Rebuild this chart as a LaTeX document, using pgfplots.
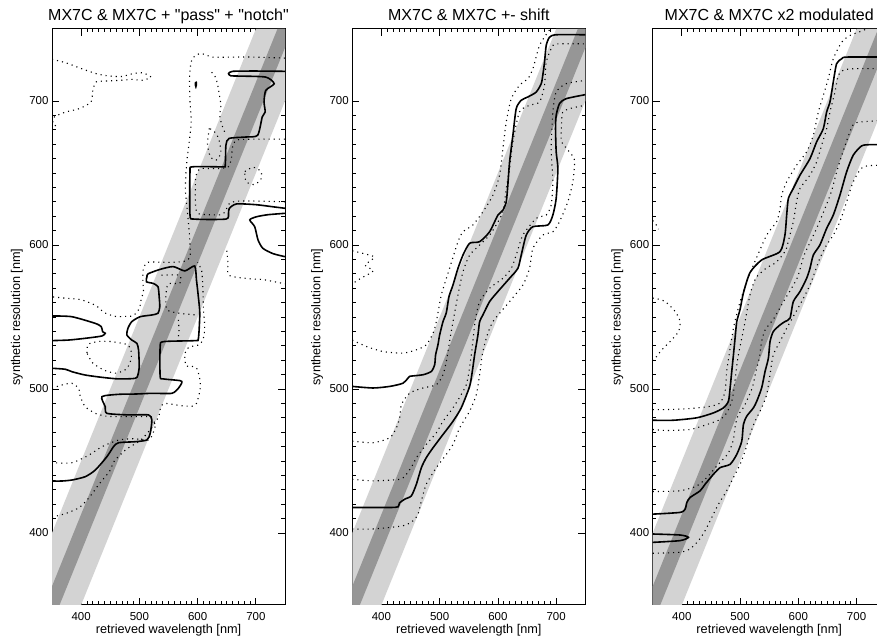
\documentclass[border=0pt]{standalone}
\usepackage{fontspec}
\setmainfont{Liberation Sans}
\newfontfamily\plainfont{Liberation Sans}
\usepackage{pgfplots}
\pgfplotsset{compat=1.18}
\definecolor{bandlight}{RGB}{211,211,211}
\definecolor{banddark}{RGB}{150,150,150}
\pgfplotsset{
 panel/.style={
  scale only axis, width=233pt, height=576pt, anchor=south west,
  xmin=350, xmax=750, ymin=350, ymax=750,
  xtick={400,500,600,700}, ytick={400,500,600,700},
  minor tick num=9,
  major tick length=7pt, minor tick length=3.5pt,
  tick style={black, line width=0.8pt},
  axis line style={line width=1pt},
  /pgf/number format/assume math mode=true,
  ticklabel style={font=\fontsize{11.5}{13}\selectfont},
  xticklabel style={yshift=-4pt},
  xlabel={retrieved wavelength [nm]},
  ylabel={synthetic resolution [nm]},
  every axis x label/.style={at={(axis description cs:0.5,-0.0503)}, anchor=base, font=\fontsize{12.7}{14}\selectfont},
  every axis y label/.style={at={(axis description cs:-0.1373,0.5)}, rotate=90, anchor=base, font=\fontsize{12.7}{14}\selectfont},
  every axis title/.style={at={(axis description cs:0.5,1.0139)}, anchor=base, font=\plainfont\fontsize{16}{18}\selectfont},
 },
 sc/.style={black, line width=1.6pt, smooth, tension=0.4},
 dc/.style={black, line width=1.1pt, dash pattern=on 1.1pt off 4pt, smooth, tension=0.4},
 bl/.style={fill=bandlight, draw=none},
 bd/.style={fill=banddark, draw=none},
}
\begin{document}
\begin{tikzpicture}
\useasboundingbox (0pt,0pt) rectangle (877pt,644pt);
% ---------------- Panel 1
\begin{axis}[panel, at={(52pt,39pt)}, title={MX7C \& MX7C + "pass" + "notch"}]
\addplot[bl] coordinates {(300,350) (400,350) (800,750) (700,750)};
\addplot[bd] coordinates {(337,350) (363,350) (763,750) (737,750)};
% solid
\addplot[sc] coordinates {(350,550.7) (384,550.2) (424,545.6) (434.6,543.3) (436.9,539.8) (441.4,538.7) (435.7,536.8) (407,535.2) (378.6,534) (350,533.6)};
\addplot[sc] coordinates {(350,514.4) (372.9,513.7) (384.3,512) (407,509.7) (435.7,508.1) (464.3,507) (492.9,507.4) (497.4,509.7) (499.7,515.5) (498.6,527.1) (495.7,531.7) (487,534) (478.6,537.5) (480.3,542.1) (487,546.8) (501.4,550.2) (521.4,551.4) (532,552.6) (535,557) (534,564) (532,571) (523.7,573.3) (512,574.5) (513,578) (515,580) (535,583) (558,585) (578,582) (595,585.4) (598,575.7) (601,565) (603.7,552.6) (601.4,535.2) (595.7,533.6) (541.4,532.9) (535.7,529.4) (535.7,508.6) (541.4,507) (570,505.8) (572.9,504.4) (567,500.5) (555.7,497) (521.4,497) (492.9,496.5) (464.3,496.3) (435.7,494.7) (441.4,487.7) (444.3,483.1) (481.4,482) (515.7,482) (521.4,478.5) (518.6,469.2) (512.9,464.6) (492.9,463.4) (464.3,462.7) (455.7,460) (444.3,453) (424.3,443.7) (407,439.1) (384.3,436.8) (367,436.1) (350,436.1)};
\addplot[sc] coordinates {(750,720.6) (700,720.8) (660,720.6) (653,719) (657,717.5) (671.4,717.3) (717,716.6) (731.4,712) (717,707.4) (714,699.3) (716,692.4) (711,689) (703,676.2) (683,675) (654,674) (648.6,669.3) (647.4,655.4) (643,654.3) (591.4,654.3) (586.9,650.8) (586.9,620.8) (594.3,618) (648.6,618) (653,622) (654.3,625.4) (666.6,628.5) (700,628) (730,626.5) (750,625.5)};
\addplot[sc] coordinates {(750,622) (720,621) (700,619.5) (689.5,617.4) (698,612.7) (703.7,603.5) (712,597.7) (729.4,594) (750,591.9)};
\addplot[sc] coordinates {(596.5,713) (597.6,713) (597.8,711) (597,710) (596.2,711) (596.5,713)};
% dotted
\addplot[dc] coordinates {(350,729) (374,726.5) (397,723) (425.7,719) (448.6,717.3) (470,717) (488.6,719) (505.7,719.6) (520,716.6) (505,714.4) (488,715) (470,714.4) (440,713.8) (425.7,713.2) (420,707.4) (417,699.3) (397,694.7) (374,692.4) (354.3,689) (351.4,684.3) (360,682)};
\addplot[dc] coordinates {(750,729.8) (694,730.5) (660,730.5) (626,730.5) (605,733) (592,730) (588,725) (586,715) (587,699) (589,686) (586,673) (582,660) (580,650) (579,638) (582,625) (585,612) (587,600) (587,592) (580,589) (560,588) (540,588) (515,588) (507,584) (506,575) (507,568) (503,562) (500,556) (490,551) (480,550.5) (460,550.3) (440,553) (425,558) (400,562) (375,563) (350,564)};
\addplot[dc] coordinates {(750,673.5) (710,673.5) (668,673) (660,668) (658,660) (652,654) (630,653) (605,653) (597,648) (596,635) (597,625) (603,621.5) (640,621) (648,624) (655,629) (670,630.5) (700,630.5) (750,630)};
\addplot[dc] coordinates {(624,720) (630,717) (634,712) (637,705) (640,697) (638,690) (642,683) (648,677)};
\addplot[dc] coordinates {(620,681) (617,670) (622,661) (632,659) (640,664) (636,674) (628,679) (620,681)};
\addplot[dc] coordinates {(681,651) (695,654) (709,651) (708,645) (696,642) (683,644) (681,651)};
\addplot[dc] coordinates {(650,596) (652,588) (652,580) (661,578) (690,576.5) (712,576) (750,573)};
\addplot[dc] coordinates {(410,525) (412,531) (430,533) (450,533) (467,532) (478,531) (485,528) (486,521) (478,514) (460,511) (440,513) (420,518) (410,525)};
\addplot[dc] coordinates {(350,500.5) (367,502.8) (384,504) (395.7,500.5) (398.6,494.7) (407,487.7) (424.3,483.1) (441.4,481.2) (460,480.8) (481.4,480.8) (500,480.8) (515.7,480.8) (524,478.5) (527,474) (521,467) (515,464.5) (490,465.5) (464,464.5) (436,460) (413,454) (384,448.8) (350,448.8)};
\addplot[dc] coordinates {(350,411) (374,413.6) (397,417.7) (414,424.7) (431,434) (449,443) (457,450) (477,458) (500,463.8) (514.3,469.6) (528.6,477.6) (534,482) (537,488) (545,490) (570,488.5) (590,488) (598,490) (604,499) (604.5,505) (599,514) (588,516) (580,516) (578,524) (585,529) (604,531) (611,537) (612,545) (610,555) (609,570) (607,582) (600,588)};
\addplot[dc] coordinates {(538,579) (569,579) (569.4,573.4) (549.4,572.9) (545.4,564) (547.7,554.9) (569.4,552.6) (598,551.4)};
\addplot[dc] coordinates {(567,548) (568,540) (566,534)};
\end{axis}
% ---------------- Panel 2
\begin{axis}[panel, at={(352.3pt,39pt)}, title={MX7C \& MX7C +- shift}]
\addplot[bl] coordinates {(300,350) (400,350) (800,750) (700,750)};
\addplot[bd] coordinates {(337,350) (363,350) (763,750) (737,750)};
\addplot[sc] coordinates {(350,501.8) (385.7,500.7) (414.3,501.8) (437,504) (445.7,507.6) (448.6,508.8) (471.4,509.9) (485.7,512.2) (491.4,516.8) (493,523.7) (497,530.6) (500,537.6) (505.7,546.8) (511.4,553) (516,564.2) (522.9,572.3) (531.4,583.8) (540,593) (551.4,601.2) (568.6,602.3) (585.7,609.2) (600,620.8) (608.6,624.2) (614.3,630) (617,641.6) (620,657.7) (625.7,676.2) (631.4,694.7) (640,700.5) (651.4,702.8) (665.7,706.2) (674.3,712) (677,717.8) (680,727) (682.9,738.6) (688.6,744.3) (700,746) (750,746)};
\addplot[sc] coordinates {(350,417.7) (414.3,417.7) (428.6,418.2) (431,420.8) (440,423.5) (451.4,425.8) (460,433.9) (468.6,445.4) (477,452.3) (488.6,459.2) (505.7,468.4) (522.9,477.6) (537,486.9) (551.4,501.8) (556,512.2) (560,523.7) (565.7,537.6) (568.6,546.8) (574.3,551.5) (585.7,560.7) (600,567.7) (620,576.9) (634.3,583.8) (640,593) (648.6,606.9) (660,612.7) (685.7,613.9) (694.3,620.8) (700,632.3) (702.9,653.1) (700,664.7) (698.9,680.8) (700,690) (705.7,698.2) (717,701.6) (750,704.4)};
\addplot[dc] coordinates {(350,534) (374.3,529.5) (402.9,526) (437,524.9) (460,527.2) (477,530.6) (488.6,538.7) (494.3,546.8) (502.9,565.4) (517,583.8) (531.4,602.3) (540,609.2) (557,613.9) (574.3,623.1) (591.4,634.6) (602.9,648.5) (608.6,667) (614.3,685.5) (622.9,701.6) (637,710.9) (651.4,715.5) (660,722.4) (671.4,738.6) (685.7,747.8) (690,750)};
\addplot[dc] coordinates {(350,463.8) (385.7,462.7) (414.3,466.1) (425.7,473) (431.4,480) (434.3,489.2) (448.6,497.2) (471.4,500.7) (494.3,503) (505.7,509.9) (511.4,519.1) (517,533) (522.9,546.8) (531.4,565.4) (540,581.5) (551.4,593) (568.6,600) (585.7,606.9) (597,613.9) (608.6,623.1) (614.3,639.3) (620,653.1) (625.7,671.6) (637,692.4) (654.3,697) (671.4,699.3) (680,710.9) (682.9,727) (694.3,738.6) (705.7,739.7) (750,739.7)};
\addplot[dc] coordinates {(350,437.3) (385.7,436.2) (431.4,437.3) (442.9,440.8) (454.3,447.7) (460,452.3) (477,461.5) (494.3,469.6) (505.7,477.6) (522.9,486.9) (537,496.1) (545.7,503) (550.3,512.2) (554.3,523.7) (557,533) (561,547.5) (568.6,560.7) (585.7,570) (608.6,576.9) (622.9,583.8) (631.4,593) (642.9,606.9) (665.7,618.5) (682.9,620.8) (691.4,627.7) (694.3,643.9) (691.4,667) (694.3,692.4) (700,706.2) (717,712) (750,714.3)};
\addplot[dc] coordinates {(350,402.8) (385.7,402.8) (437,405) (454.3,408.5) (462.9,413.1) (468.6,422.4) (477,433.9) (494.3,445.4) (511.4,454.6) (522.9,461.5) (534.3,473) (551.4,484.6) (562.9,496.1) (568.6,509.9) (573.1,523.7) (580,535.3) (591.4,546.8) (620,560.7) (642.9,572.3) (654.3,583.8) (660,597.7) (677,606.9) (694.3,609.2) (705.7,616.2) (720,630) (728.6,644) (731.4,659) (720,666) (709,672) (709,681) (711,692) (726,695) (750,697)};
\addplot[dc] coordinates {(350,596) (370,594) (388,591.5) (372,586) (386,582) (365,577) (350,573)};
\end{axis}
% ---------------- Panel 3
\begin{axis}[panel, at={(652.7pt,39pt)}, title={MX7C \& MX7C x2 modulated}]
\addplot[bl] coordinates {(300,350) (400,350) (800,750) (700,750)};
\addplot[bd] coordinates {(337,350) (363,350) (763,750) (737,750)};
\addplot[sc] coordinates {(350,478.3) (385.7,478.3) (425.7,480) (454.3,483.4) (471.4,486.9) (480,491.5) (482.9,500.7) (485.7,512.2) (488.6,523.7) (491.4,535.3) (494.3,546.8) (500,555.3) (505.7,566.7) (517,580.8) (537,589.6) (568.6,595.4) (577,606.9) (580,620.8) (582.9,632.3) (591.4,639.3) (602.9,648.5) (620,660) (631.4,671.6) (642.9,680.8) (648.6,692.4) (654.3,699.3) (660,713.2) (665.7,725.9) (674.3,729.3) (682.9,730.5) (750,730.5)};
\addplot[sc] coordinates {(350,413.1) (397,414.3) (405.7,416.6) (408.6,421.2) (414.3,424.7) (431.4,429.3) (440,433.9) (454.3,440.8) (465.7,445.4) (482.9,447.7) (494.3,454.6) (502.9,463.8) (505.7,475.3) (511.4,481.1) (522.9,486.9) (528.6,491.5) (537,500.7) (542.9,512.2) (548.6,521.4) (551.4,532.9) (557,539.9) (568.6,544.5) (577,546.8) (585.7,549.2) (591.4,560.7) (602.9,567.7) (614.3,576.9) (620,583.8) (625.7,593) (637,600) (648.6,611.5) (660,620.8) (671.4,634.6) (682.9,650.8) (694.3,662.4) (708.6,668.8) (722.9,669.7) (750,669.7)};
\addplot[sc] coordinates {(350,399.3) (397,398.6) (411.4,397) (397,394.7) (350,393.5)};
\addplot[dc] coordinates {(350,485.7) (374.3,485.7) (414.3,486.4) (448.6,488) (465.7,490.3) (474.3,498.4) (477,512.2) (482.9,528.3) (488.6,542.2) (493,550) (500,560.7) (511.4,574.6) (522.9,586.1) (545.7,606.9) (562.9,616.2) (568.6,625.4) (571.4,634.6) (580,643.9) (597,655.4) (614.3,664.7) (625.7,676.2) (634.3,692.4) (642.9,703.9) (651.4,715.5) (660,729.3) (674.3,740.8) (688.6,745.5) (711.4,749) (716,750)};
\addplot[dc] coordinates {(350,471.9) (374.3,471.2) (414.3,471.9) (442.9,475.3) (465.7,478.8) (477,483.4) (485.7,491.5) (489.7,500.7) (493.1,512.2) (497.1,523.7) (502.9,535.3) (508.6,546.8) (517,565.4) (527,577) (545,584) (562,588) (578,596) (583,603) (591.4,616.2) (597,630) (602.9,639.3) (620,648.5) (631.4,657.7) (640,669.3) (648.6,680.8) (654.3,692.4) (662.9,706.2) (668.6,717.8) (677,721.3) (694.3,722.4) (750,722.4)};
\addplot[dc] coordinates {(350,428.8) (397,429.3) (425.7,432.7) (442.9,438.5) (460,446.5) (479,455) (488,464) (492,475) (497,482) (507,488) (521,501) (527,512) (533,521.5) (537,533) (543,541) (558,549) (575,561) (598,577) (610,593) (632,612) (655,635) (666,651) (676,664) (690,680) (700,685) (750,686.6)};
\addplot[dc] coordinates {(350,385.9) (397,386.6) (414.3,389) (428.6,394.7) (440,401.6) (451.4,410.8) (462.9,420) (477,429.3) (488.6,438.5) (500,447.7) (508.6,456.9) (517,468.4) (525.7,477.6) (537,486.9) (545.7,496.1) (551.4,509.9) (557,523.7) (568.6,533) (580,542.2) (588,548) (605.7,560.7) (620,572.3) (628.6,581.5) (637,590.8) (648.6,600) (660,606.9) (671.4,616.2) (682.9,630) (694.3,643.9) (711.4,654.3) (750,655.4)};
\addplot[dc] coordinates {(350,563) (354.3,563) (371.4,560.7) (388.6,553.8) (397,546.9) (394.3,539.9) (380,533) (365.7,527.2) (354.3,521.4) (350,520)};
\addplot[dc] coordinates {(350,617) (356,614) (360,611)};
\end{axis}
\end{tikzpicture}
\end{document}
